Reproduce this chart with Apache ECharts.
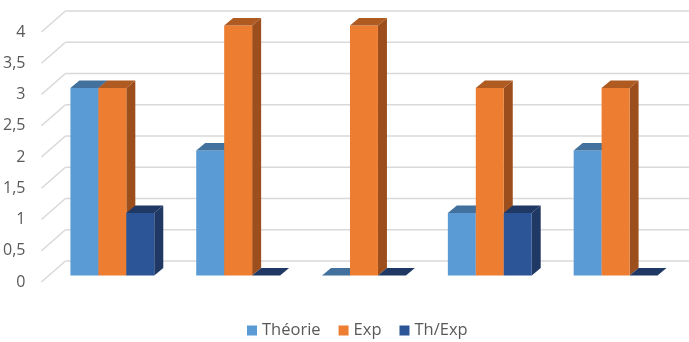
<!DOCTYPE html>
<html>
<head>
<meta charset="utf-8">
<style>html,body{margin:0;padding:0;background:#fff}#chart{width:689px;height:342px}</style>
<script src="https://cdn.jsdelivr.net/npm/echarts@6/dist/echarts.min.js"></script>
</head>
<body>
<div id="chart"></div>
<script>
// Measurements per group
const categories = ['1', '2', '3', '4', '5'];
const theorie = [3, 2, 0, 1, 2];
const exp = [3, 4, 4, 3, 3];
const thExp = [1, 0, 0, 1, 0];
const gridTicks = [0, 0.5, 1, 1.5, 2, 2.5, 3, 3.5, 4];

// Projection of the pseudo-3D box
const BAR_LIFT = 6.5;      // front face sits above the axis plane
const BAR_DEPTH_X = 9;
const BAR_DEPTH_Y = 7.5;
const WALL_DX = 24;
const WALL_DY = 21;
const WALL_INSET = 8;      // wall starts left of the first band
const BAR_SHARE = 0.2222;  // bar width as a share of the band

function boxSeries(name, values, slot, front, top, side) {
  return {
    name,
    type: 'custom',
    clip: false,
    itemStyle: { color: front },
    encode: { x: 0, y: 1 },
    data: values.map((v, i) => [i, v]),
    renderItem(params, api) {
      const base = api.coord([api.value(0), 0]);
      const peak = api.coord([api.value(0), api.value(1)]);
      const w = api.size([1, 0])[0] * BAR_SHARE;
      const x0 = base[0] + (slot - 1.5) * w;
      const x1 = x0 + w;
      const yb = base[1] - BAR_LIFT;
      const yt = peak[1] - BAR_LIFT;
      const dx = BAR_DEPTH_X, dy = BAR_DEPTH_Y;
      const children = [];
      if (yb - yt > 0.1) {
        children.push({
          type: 'polygon',
          shape: { points: [[x1, yb], [x1 + dx, yb - dy], [x1 + dx, yt - dy], [x1, yt]] },
          style: { fill: side }
        });
        children.push({
          type: 'polygon',
          shape: { points: [[x0, yb], [x1, yb], [x1, yt], [x0, yt]] },
          style: { fill: front }
        });
      }
      children.push({
        type: 'polygon',
        shape: { points: [[x0, yt], [x1, yt], [x1 + dx, yt - dy], [x0 + dx, yt - dy]] },
        style: { fill: top }
      });
      return { type: 'group', children };
    }
  };
}

// Side wall diagonal and back-wall line for every tick
const wallSeries = {
  name: 'wall',
  type: 'custom',
  clip: false,
  silent: true,
  z: 0,
  encode: { y: 0 },
  data: gridTicks.map(t => [t]),
  renderItem(params, api) {
    const y = api.coord([0, api.value(0)])[1];
    const x = params.coordSys.x - WALL_INSET;
    const stroke = { stroke: '#d9d9d9', lineWidth: 1.6, fill: 'none' };
    return {
      type: 'group',
      children: [
        { type: 'line', shape: { x1: x, y1: y, x2: x + WALL_DX, y2: y - WALL_DY }, style: stroke },
        { type: 'line', shape: { x1: x + WALL_DX, y1: y - WALL_DY, x2: 689, y2: y - WALL_DY }, style: stroke }
      ]
    };
  }
};

const chart = echarts.init(document.getElementById('chart'), null, { renderer: 'canvas' });
chart.setOption({
  animation: false,
  backgroundColor: '#fff',
  textStyle: { fontFamily: 'Open Sans' },
  grid: { left: 48.5, top: 32, width: 630, height: 250 },
  legend: {
    data: ['Théorie', 'Exp', 'Th/Exp'],
    left: 242,
    top: 317,
    icon: 'rect',
    itemWidth: 10,
    itemHeight: 10,
    itemGap: 18,
    textStyle: { color: '#595959', fontSize: 16.5, fontFamily: 'Open Sans' }
  },
  xAxis: {
    type: 'category',
    data: categories,
    axisLine: { show: false },
    axisTick: { show: false },
    axisLabel: { show: false },
    splitLine: { show: false }
  },
  yAxis: {
    type: 'value',
    min: 0,
    max: 4,
    interval: 0.5,
    axisLine: { show: false },
    axisTick: { show: false },
    splitLine: { show: false },
    axisLabel: {
      margin: 24,
      color: '#595959',
      fontSize: 16,
      fontFamily: 'Open Sans',
      formatter: v => String(v).replace('.', ',')
    }
  },
  series: [
    wallSeries,
    boxSeries('Théorie', theorie, 0, '#5b9bd5', '#41719c', '#41719c'),
    boxSeries('Exp', exp, 1, '#ed7d31', '#ae5a21', '#9c4f1c'),
    boxSeries('Th/Exp', thExp, 2, '#2b5597', '#1f3864', '#1f3864')
  ]
});
</script>
</body>
</html>
